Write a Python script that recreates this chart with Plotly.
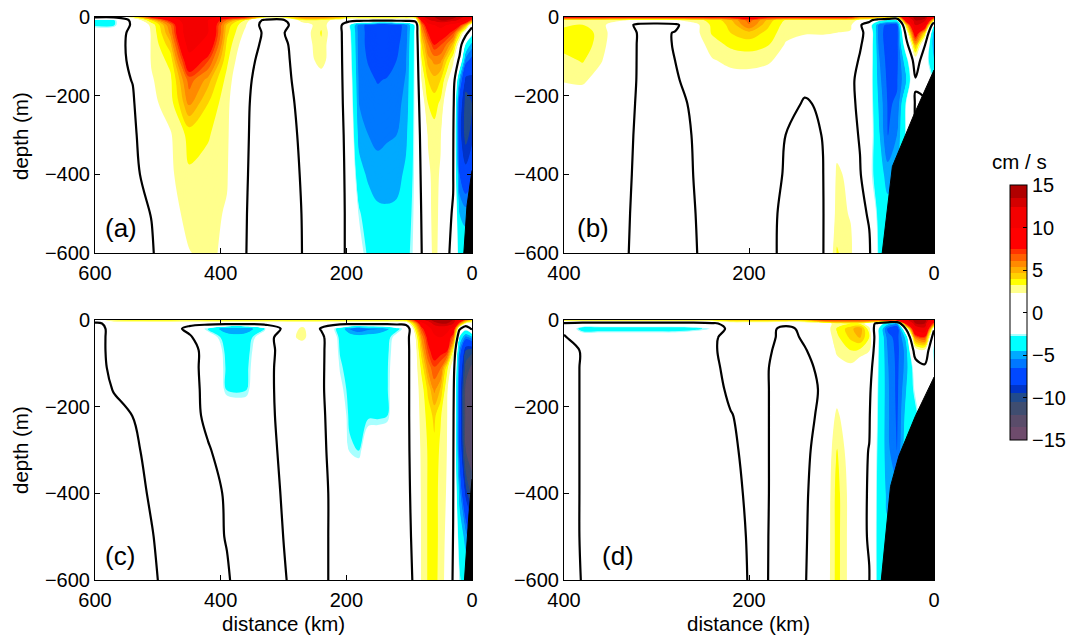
import numpy as np
import plotly.graph_objects as go

# ---------------- data ----------------
depth_m = [0, -8, -20, -40, -70, -110, -160, -220, -300, -400, -500, -600]

dist_ac_km = [600, 570, 540, 510, 480, 450, 420, 390, 360, 330, 300, 270, 240, 210,
              195, 180, 165, 150, 135, 120, 105, 90, 80, 70, 60, 50, 40, 30, 20, 10, 0]
dist_bd_km = [400, 380, 360, 340, 320, 300, 280, 260, 240, 220, 200, 180, 160, 140,
              120, 105, 90, 80, 70, 60, 50, 40, 30, 20, 10, 0]

# velocity (cm/s): one profile (list over depth_m) per distance column
vel_a = [
    [0.5, -3, -3, -1.5, -0.8, -0.6, -0.5, -0.5, -0.5, -0.5, -0.5, -0.5],
    [0.5, -3, -3, -1.2, -0.8, -0.6, -0.5, -0.5, -0.5, -0.5, -0.5, -0.5],
    [3, 0.8, 0.5, 0.6, 0.5, 0.3, 0.05, -0.2, -0.4, -0.5, -0.6, -0.6],
    [8, 4, 2.6, 2.4, 2.4, 2.4, 2.2, 2.0, 1.5, 0.8, 0.05, -0.2],
    [10, 8, 6, 5.5, 4.5, 3.5, 3.0, 2.8, 2.2, 2.1, 1.8, 1.5],
    [12, 12, 12, 12, 11, 9, 6.5, 5.5, 3.5, 3.1, 2.7, 2.25],
    [11, 10, 10, 10, 9, 7, 5, 4, 3.3, 2.8, 2.6, 2.6],
    [9, 6, 4.5, 4.2, 3.8, 3.4, 2.9, 2.6, 2.5, 2.4, 2.2, 2.0],
    [8, 3, 2.4, 2.0, 1.5, 1.0, 0.6, 0.4, 0.3, 0.2, 0.1, 0.05],
    [3.5, -0.5, -1.0, -0.4, -0.6, -1.0, -1.3, -1.5, -1.5, -1.5, -1.5, -1.5],
    [3.5, -0.3, -0.6, -0.1, -0.5, -0.6, -0.6, -0.7, -0.8, -0.9, -1.0, -1.0],
    [6, 3, 1.5, 1.5, 1.5, 1.2, 0.8, 0.5, 0.3, 0.15, 0.05, 0.02],
    [6, 3, 3.0, 3.3, 3.0, 2.9, 1.5, 1.0, 0.6, 0.4, 0.3, 0.2],
    [5, 1.5, 0.6, 0.5, 0.5, 0.5, 0.5, 0.5, 0.5, 0.5, 0.5, 0.5],
    [3.5, 1.0, -2.4, -2.2, -2, -1.8, -1.5, -1.2, -0.8, -0.6, -0.5, -0.5],
    [3.5, 1.0, -6, -6, -6, -5.9, -5.7, -5.5, -5.0, -3.8, -2.6, -2.0],
    [3.5, 1.0, -6.8, -6.8, -6.8, -6.6, -6.2, -5.8, -5.5, -4.8, -3.6, -3.0],
    [3.5, 1.0, -7.8, -7.8, -7.6, -7.2, -6.6, -6.0, -5.7, -5.2, -4.2, -3.5],
    [3.5, 1.0, -7.8, -7.8, -7.6, -7.2, -6.4, -6.0, -5.6, -5.1, -4.3, -3.6],
    [3.5, 1.0, -7, -7, -6.8, -6.5, -6.1, -5.8, -5.5, -5.0, -4.2, -3.5],
    [3.5, 1.0, -6, -6, -5.8, -5.6, -5.4, -5.2, -4.8, -4.2, -3.6, -3.2],
    [4, 1.0, -2.2, -2.2, -2.2, -2.2, -2.2, -2.2, -2.2, -2.2, -2.2, -2.2],
    [12, 8, 6, 5, 4, 3.2, 2.4, 1.6, 0.9, 0.5, 0.2, 0.0],
    [13, 12, 9, 7.5, 6, 5, 4, 3.2, 2.4, 2.1, 2.0, 1.8],
    [13.5, 13, 10, 8.5, 7.6, 5.5, 4.5, 3.6, 2.8, 2.6, 2.6, 2.6],
    [14, 13.5, 11, 8.5, 7, 5.5, 4.0, 3.0, 2.4, 2.2, 2.1, 2.0],
    [14, 13.5, 10, 8, 6, 4, 2.5, 1.5, 0.8, 0.5, 0.3, 0.2],
    [14, 13, 9, 7, 4.5, 2.5, 1.5, 0.8, 0.3, 0.1, -0.1, -0.3],
    [13, 12, 8, 4, 1.5, -0.5, -5, -7.5, -8, -6.5, -4.5, -3.5],
    [12, 10, 5, 1, -3, -6, -9, -10, -10, -8, -5, -3.5],
    [10, 6, 1, -2, -5, -7, -9, -9.5, -9, -7, -4.5, -3],
]

vel_b = [
    [8, 3.0, 3.0, 3.6, 3.6, 2.9, 2.4, 1.5, 1.0, 0.8, 0.6, 0.5],
    [8, 3.0, 3.2, 3.8, 3.8, 3.3, 2.5, 1.5, 1.0, 0.8, 0.6, 0.5],
    [8, 2.8, 2.6, 2.8, 2.7, 2.4, 1.8, 1.2, 0.9, 0.8, 0.6, 0.5],
    [8, 2.5, 1.5, 1.4, 1.3, 1.2, 1.0, 0.8, 0.6, 0.5, 0.4, 0.3],
    [8, 2.0, -0.5, -0.1, -0.1, -0.1, -0.1, -0.15, -0.2, -0.25, -0.3, -0.3],
    [8, 2.0, -0.8, -0.5, -0.5, -0.5, -0.5, -0.5, -0.5, -0.5, -0.5, -0.5],
    [8, 2.2, -0.5, 0.1, 0.1, 0.0, -0.1, -0.3, -0.4, -0.5, -0.6, -0.6],
    [8, 2.8, 1.8, 1.8, 1.5, 0.8, 0.3, 0.15, 0.05, 0.01, -0.05, -0.1],
    [8, 3.5, 3.4, 3.3, 2.8, 2.2, 1.5, 1.0, 0.6, 0.5, 0.4, 0.4],
    [8, 4.5, 4.2, 4.0, 3.4, 2.6, 1.8, 1.2, 0.8, 0.6, 0.5, 0.4],
    [9, 6.5, 6.0, 4.5, 3.6, 2.7, 1.8, 1.2, 0.8, 0.6, 0.5, 0.4],
    [8, 4.5, 4.2, 3.8, 3.3, 2.5, 1.6, 1.0, 0.6, 0.4, 0.35, 0.3],
    [8, 3.0, 2.8, 2.6, 2.2, 1.8, 1.2, 0.8, -0.02, -0.1, -0.3, -0.3],
    [8, 3.0, 2.6, 2.4, 1.8, 1.2, 0.6, -0.2, -0.5, -0.6, -0.6, -0.6],
    [8, 3.0, 2.6, 2.4, 1.8, 1.2, 0.8, 0.3, 0.05, -0.05, -0.1, -0.1],
    [8, 3.0, 2.6, 2.3, 1.5, 1.0, 0.8, 1.0, 1.8, 2.5, 2.7, 3.3],
    [8, 2.8, 2.5, 2.2, 1.2, 0.8, 0.5, 0.5, 0.8, 2.0, 2.2, 2.6],
    [6, 2.0, 0.3, 0.4, 0.2, -0.2, -0.75, -0.5, -0.2, 0.2, 0.5, 0.5],
    [6, 1.0, -1.5, -0.7, -1.0, -1.2, -1.5, -1.5, -1.5, -2.0, -0.2, 0.3],
    [5, -2, -5.5, -5.8, -5.6, -5.3, -5.0, -4.6, -4.2, -3.8, -3.3, -2.9],
    [5, -3, -7, -7.2, -7.2, -7.0, -6.8, -6.6, -6.6, -5.0, -4, -3],
    [3, -3, -7, -7.2, -7.0, -6.8, -6.6, -6.4, -5.5, -4.5, -4, -3],
    [12, 9, 4, 1.0, -1.0, -3.5, -4.5, -2.5, -2.5, -3, -3, -3],
    [14, 13.5, 12.5, 9, 5, 1.5, -0.2, 0.2, 0.2, 0.3, 0.3, 0.3],
    [14, 13, 10, 4, 0.2, -1.5, -1.0, 0.3, 0.3, 0.3, 0.3, 0.3],
    [8, 3, -3, -5.5, -5.5, -4.5, -3, -3, -3, -3, -3, -3],
]

vel_c = [
    [1, -0.3, -0.5, -0.5, -0.5, -0.5, -0.5, -0.5, -0.5, -0.5, -0.5, -0.5],
    [3.5, 0.5, 0.4, 0.4, 0.4, 0.3, 0.05, -0.3, -0.4, -0.5, -0.5, -0.5],
    [3.5, 0.8, 0.6, 0.5, 0.5, 0.4, 0.2, 0.01, -0.2, -0.3, -0.4, -0.4],
    [3.5, 1, 0.8, 0.6, 0.6, 0.5, 0.5, 0.4, 0.3, 0.1, -0.05, -0.2],
    [3.5, 1, 0.8, 0.6, 0.6, 0.6, 0.6, 0.6, 0.5, 0.5, 0.4, 0.4],
    [3.5, 0.5, -0.5, 0.3, 0.5, 0.5, 0.5, 0.5, 0.5, 0.5, 0.4, 0.3],
    [3.5, 0.8, -3.0, -1.5, -0.5, -0.5, -0.4, -0.3, 0.1, 0.3, 0.3, 0.3],
    [3.5, 0.8, -5.6, -3.5, -3.2, -3.0, -2.9, -1.2, -0.5, -0.1, -0.05, 0.1],
    [3.5, 0.8, -5.6, -3.5, -3.3, -3.1, -2.9, -1.5, -0.6, -0.5, -0.5, -0.5],
    [3.5, 0.8, -2.8, -1.5, -1.0, -0.8, -0.7, -0.6, -0.6, -0.5, -0.5, -0.5],
    [3.5, 0.8, 0.5, 1.5, 0.8, 0.8, 0.7, 0.5, 0.3, 0.1, 0.01, -0.1],
    [3.5, 1.5, 2.7, 2.7, 1.2, 0.8, 0.6, 0.5, 0.5, 0.5, 0.5, 0.5],
    [3.5, 0.8, -0.2, 0.6, 0.6, 0.5, 0.4, 0.4, 0.3, 0.3, 0.3, 0.3],
    [3.5, 0.8, -3.5, -3.1, -2.9, -2.6, -2.2, -1.5, -0.8, -0.5, -0.5, -0.5],
    [3.5, 0.8, -5.6, -3.6, -3.4, -3.3, -3.1, -3.0, -2.6, -1.0, -0.6, -0.5],
    [3.5, 0.8, -6.6, -3.8, -3.5, -3.4, -3.3, -3.1, -2.85, -1.0, -0.6, -0.5],
    [3.5, 0.8, -5.8, -3.8, -3.5, -3.4, -3.2, -2.95, -1.5, -0.8, -0.6, -0.5],
    [3.5, 0.8, -5.6, -3.6, -3.4, -3.3, -3.1, -3.0, -1.2, -0.7, -0.6, -0.5],
    [3.5, 0.8, -4.8, -3.2, -3.0, -2.9, -2.9, -2.85, -1.0, -0.6, -0.5, -0.5],
    [3.5, 0.8, -3.2, -2.0, -1.8, -1.6, -1.4, -1.3, -1.0, -0.8, -0.6, -0.5],
    [4, 0.8, -2.0, -1.0, -0.9, -0.9, -0.9, -0.9, -0.9, -0.9, -0.9, -1.0],
    [8, 5, 3.5, 2.2, 1.8, 1.8, 1.8, 1.8, 1.6, 1.2, 0.8, 0.5],
    [12, 9, 7, 5.5, 4.5, 3.5, 2.8, 2.6, 2.5, 2.5, 2.5, 2.5],
    [13, 11, 9, 8, 7, 5.5, 4.2, 3.6, 3.3, 3.3, 3.3, 3.3],
    [14, 13, 11, 9.5, 8.5, 6.8, 5.5, 4.2, 3.8, 3.6, 3.6, 3.5],
    [14, 13.5, 11.5, 10, 8, 6.2, 4.6, 3.3, 3.0, 2.9, 2.9, 2.9],
    [14, 13.5, 11, 9, 7.8, 3.5, 2.5, 2.4, 2.3, 2.2, 2.0, 1.8],
    [13.5, 12.5, 9, 6.5, 3, 1.5, 0.8, 0.5, 0.3, 0.1, -0.05, -0.2],
    [10, 6, 0.5, -3, -5.5, -6.8, -7.2, -7.2, -7, -5, -3.5, -2.6],
    [6, 2, -2, -6, -9.5, -11, -12.5, -12.5, -12, -9, -5, -3.5],
    [4, 1.5, 0.5, -5, -10, -12.5, -13, -13, -13, -11, -7, -4],
]

vel_d = [
    [3.5, -0.3, -0.5, 0.2, 0.5, 0.5, 0.5, 0.5, 0.5, 0.5, 0.5, 0.5],
    [3.5, -1.0, -3.5, -1.2, -0.1, -0.1, -0.1, -0.1, -0.1, -0.1, -0.1, -0.05],
    [3.5, -1.0, -3.5, -1.2, -0.5, -0.5, -0.5, -0.5, -0.5, -0.5, -0.5, -0.5],
    [3.5, -1.0, -3.5, -1.2, -0.5, -0.5, -0.5, -0.5, -0.5, -0.5, -0.5, -0.5],
    [3.5, -1.0, -3.5, -1.2, -0.5, -0.5, -0.5, -0.5, -0.5, -0.5, -0.5, -0.5],
    [3.5, -1.0, -3.5, -1.2, -0.5, -0.5, -0.5, -0.5, -0.5, -0.5, -0.5, -0.5],
    [3.5, -1.0, -3.5, -1.2, -0.5, -0.5, -0.5, -0.5, -0.5, -0.5, -0.5, -0.5],
    [3.5, -1.0, -3.2, -0.8, -0.5, -0.5, -0.5, -0.5, -0.5, -0.5, -0.5, -0.5],
    [3.5, -0.5, -2.4, -0.5, -0.4, -0.4, -0.4, -0.4, -0.4, -0.4, -0.4, -0.4],
    [4.5, 1.0, 1.0, 1.0, 1.0, 0.5, 0.2, -0.05, -0.15, -0.2, -0.25, -0.3],
    [4.5, 1.0, 0.6, 0.5, 0.4, 0.3, 0.3, 0.3, 0.2, 0.1, 0.05, 0.03],
    [4.5, 1.0, 0.5, 0.4, 0.2, 0.05, 0.05, 0.05, 0.05, 0.05, 0.03, 0.02],
    [4.5, 0.5, -0.5, -0.5, -0.6, -0.6, -0.6, -0.6, -0.6, -0.6, -0.6, -0.6],
    [4.5, 1.0, 0.5, 0.2, -0.1, -0.3, -0.4, -0.4, -0.3, -0.2, -0.15, -0.1],
    [7, 1.5, 1.2, 1.0, 0.7, 0.3, 0.15, 0.3, 0.6, 0.8, 0.9, 1.0],
    [7, 2.8, 3.3, 3.0, 2.5, 1.8, 1.5, 2.6, 3.3, 3.6, 3.6, 3.6],
    [7, 3.2, 4.5, 4.2, 3.2, 2.0, 1.2, 1.0, 1.5, 1.8, 1.8, 1.8],
    [7, 3.0, 5.2, 4.8, 3.0, 1.2, 0.8, 0.5, 0.4, 0.3, 0.3, 0.3],
    [7, 1.5, 2.6, 3.2, 2.4, 1.2, 0.5, 0.2, -0.05, -0.1, -0.1, 0.05],
    [7, -1.0, -2.6, -2.6, -2.7, -2.8, -2.9, -3.0, -3.2, -3.4, -3.5, -3.5],
    [8, -4, -6.8, -6.0, -5.6, -5.4, -5.3, -5.3, -5.2, -4.8, -4.2, -3.6],
    [8, -5, -8, -7.0, -6.9, -6.8, -6.8, -6.7, -6.6, -5, -4, -3.5],
    [12, 8, 0.5, -4.0, -5.0, -5.0, -4.5, -4.0, -3.5, -3.5, -3.5, -3.5],
    [14, 13.5, 11, 6, 1.5, -1.5, -2.2, -3.2, -3, -3, -3, -3],
    [14, 13.5, 12, 7, 2.0, -0.5, -1, -1, -1, -1, -1, -1],
    [10, 6, 0.5, -2, -3, -2.5, -1, -1, -1, -1, -1, -1],
]

# sea floor (black) outlines
floor_a_km = [0, 8, 13, 0]
floor_a_m = [-390, -480, -600, -600]
floor_b_km = [56, 45, 22, 0, 0]
floor_b_m = [-600, -380, -250, -135, -600]
floor_c_km = [0, 5, 12, 0]
floor_c_m = [-367, -450, -600, -600]
floor_d_km = [57, 47, 38, 20, 0, 0]
floor_d_m = [-600, -384, -314, -221, -132, -600]

panel_labels = ["(a)", "(b)", "(c)", "(d)"]
cbar_ticks = [-15, -10, -5, 0, 5, 10, 15]

# ---------------- colour scale (banded, like the original) ----------------
bands = [
    (-15, -13.5, '#6e4b6c'), (-13.5, -12, '#5a4c6a'), (-12, -10.5, '#3f4d70'),
    (-10.5, -9.5, '#214b8c'), (-9.5, -8.5, '#0034c8'), (-8.5, -6.5, '#0048ff'),
    (-6.5, -5.5, '#0078ff'), (-5.5, -4.5, '#00aaff'), (-4.5, -2.8, '#00ffff'),
    (-2.8, -2.5, '#a8ffff'), (-2.5, 2.3, '#ffffff'), (2.3, 3.2, '#ffff8c'),
    (3.2, 4.0, '#ffff00'), (4.0, 4.7, '#ffd200'), (4.7, 5.3, '#ffae00'),
    (5.3, 6.1, '#ff8a00'), (6.1, 6.9, '#ff6000'), (6.9, 7.5, '#ff3400'),
    (7.5, 10.0, '#ff0000'), (10.0, 12.4, '#f40000'), (12.4, 13.5, '#d40000'),
    (13.5, 15, '#b00000'),
]
colorscale = []
for lo, hi, col in bands:
    colorscale.append([(lo + 15) / 30.0, col])
    colorscale.append([(hi + 15) / 30.0, col])

W, H = 1071, 636
FONT = "Liberation Sans, Arial, Helvetica, sans-serif"
TICK = 20
LAB = 20.5

def px_x(p):
    return p / W

def px_y(p):
    return 1 - p / H

panels = [
    dict(dist=dist_ac_km, vel=vel_a, fx=floor_a_km, fy=floor_a_m, xr=[600, 0],
         xt=[600, 400, 200, 0], dom_x=(95, 472), dom_y=(17, 253)),
    dict(dist=dist_bd_km, vel=vel_b, fx=floor_b_km, fy=floor_b_m, xr=[400, 0],
         xt=[400, 200, 0], dom_x=(564, 934), dom_y=(17, 253)),
    dict(dist=dist_ac_km, vel=vel_c, fx=floor_c_km, fy=floor_c_m, xr=[600, 0],
         xt=[600, 400, 200, 0], dom_x=(95, 472), dom_y=(320, 580)),
    dict(dist=dist_bd_km, vel=vel_d, fx=floor_d_km, fy=floor_d_m, xr=[400, 0],
         xt=[400, 200, 0], dom_x=(564, 934), dom_y=(320, 580)),
]

fig = go.Figure()
layout_axes = {}
for i, p in enumerate(panels):
    n = i + 1
    xa = 'x' if n == 1 else f'x{n}'
    ya = 'y' if n == 1 else f'y{n}'
    x = np.array(p['dist'], dtype=float)[::-1]
    y = np.array(depth_m, dtype=float)[::-1]
    z = np.array(p['vel'], dtype=float).T[::-1, ::-1]

    fig.add_trace(go.Contour(
        x=x, y=y, z=z, xaxis=xa, yaxis=ya,
        colorscale=colorscale, zmin=-15, zmax=15, zauto=False,
        contours=dict(start=-15, end=15, size=0.1, coloring='fill', showlines=False),
        line=dict(width=0, smoothing=1.0),
        showscale=(n == 1), hoverinfo='skip',
        colorbar=dict(
            x=px_x(1010), xanchor='left', xpad=0, ypad=0,
            y=px_y(312.5), yanchor='middle', len=255 / H, lenmode='fraction',
            thickness=17, outlinecolor='black', outlinewidth=1,
            tickmode='array', tickvals=cbar_ticks, ticks='inside', ticklen=4,
            tickcolor='black', tickfont=dict(size=TICK, color='black', family=FONT),
        ),
    ))
    fig.add_trace(go.Contour(
        x=x, y=y, z=z, xaxis=xa, yaxis=ya, showscale=False, hoverinfo='skip',
        contours=dict(start=0, end=0, size=1, coloring='none', showlines=True),
        line=dict(color='black', width=2.2, smoothing=1.0),
    ))
    fig.add_trace(go.Scatter(
        x=p['fx'], y=p['fy'], xaxis=xa, yaxis=ya, mode='lines', fill='toself',
        fillcolor='black', line=dict(color='black', width=1), hoverinfo='skip',
        showlegend=False,
    ))

    axis_common = dict(showline=True, linecolor='black', linewidth=1, mirror='ticks',
                       ticks='inside', ticklen=5, tickcolor='black', showgrid=False,
                       zeroline=False, automargin=False,
                       tickfont=dict(size=TICK, color='black', family=FONT))
    layout_axes['xaxis' if n == 1 else f'xaxis{n}'] = dict(
        domain=[px_x(p['dom_x'][0]), px_x(p['dom_x'][1])], anchor=ya,
        range=p['xr'], tickmode='array', tickvals=p['xt'], ticklabelstandoff=2, **axis_common)
    layout_axes['yaxis' if n == 1 else f'yaxis{n}'] = dict(
        domain=[px_y(p['dom_y'][1]), px_y(p['dom_y'][0])], anchor=xa,
        range=[-600, 0], tickmode='array', tickvals=[0, -200, -400, -600], **axis_common)

annotations = []
label_pos = [(103, 228), (575, 228), (103, 556), (600, 556)]
for lab, (lx, ly) in zip(panel_labels, label_pos):
    annotations.append(dict(text=lab, x=px_x(lx), y=px_y(ly), xref='paper', yref='paper',
                            xanchor='left', yanchor='middle', showarrow=False,
                            font=dict(size=26, color='black', family=FONT)))
for cy in (136, 450):
    annotations.append(dict(text='depth (m)', x=px_x(21), y=px_y(cy), xref='paper', yref='paper',
                            xanchor='center', yanchor='middle', textangle=-90, showarrow=False,
                            font=dict(size=LAB, color='black', family=FONT)))
for cx in (283, 748):
    annotations.append(dict(text='distance (km)', x=px_x(cx), y=px_y(623), xref='paper', yref='paper',
                            xanchor='center', yanchor='middle', showarrow=False,
                            font=dict(size=LAB, color='black', family=FONT)))
annotations.append(dict(text='cm / s', x=px_x(1019), y=px_y(161), xref='paper', yref='paper',
                        xanchor='center', yanchor='middle', showarrow=False,
                        font=dict(size=LAB, color='black', family=FONT)))

fig.update_layout(
    width=W, height=H, margin=dict(l=0, r=0, t=0, b=0, autoexpand=False),
    paper_bgcolor='white', plot_bgcolor='white', showlegend=False,
    font=dict(family=FONT, color='black', size=TICK),
    annotations=annotations, **layout_axes,
)

fig.write_html("out.html")
